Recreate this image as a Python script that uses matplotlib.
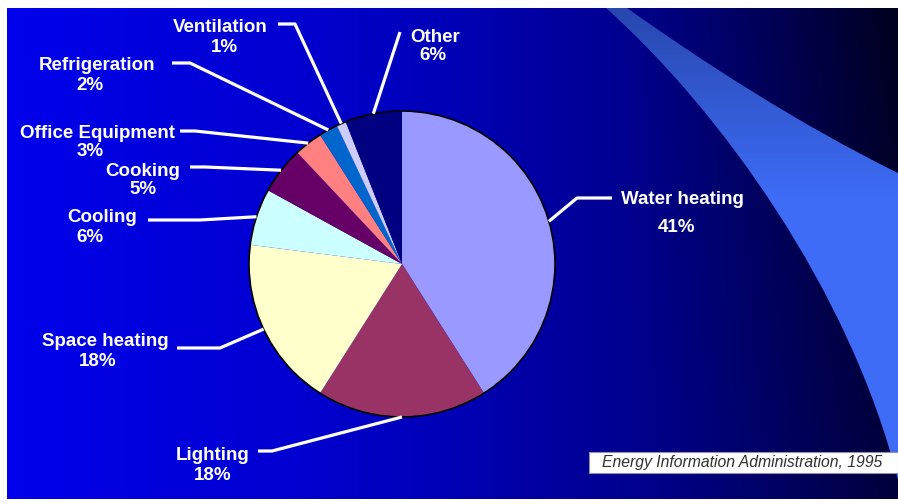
import matplotlib.pyplot as plt
import numpy as np
from matplotlib.patches import Circle, Rectangle, PathPatch
from matplotlib.path import Path

# Commercial building energy end use, EIA 1995
categories = ["Water heating", "Lighting", "Space heating", "Cooling", "Cooking",
              "Office Equipment", "Refrigeration", "Ventilation", "Other"]
shares = [41, 18, 18, 6, 5, 3, 2, 1, 6]
slice_colors = ["#9999FF", "#993366", "#FFFFCC", "#CCFFFF", "#660066",
                "#FF8080", "#0066CC", "#CCCCFF", "#000080"]
source = "Energy Information Administration, 1995"

W, H = 898, 504


def Y(y):
    # picture rows run downwards, the axes run upwards
    return H - y


# label layout in picture pixels: name centre, percent centre, leader path
name_pos = [(682, 199), (213, 456), (105, 342), (102, 218), (143, 171),
            (98, 133), (97, 65), (220, 28), (435, 37)]
pct_pos = [(676, 228), (213, 475), (98, 361), (90, 237), (143, 190),
           (90, 152), (90, 85), (224, 47), (433, 56)]
leader_start = [[(612, 198), (577, 198)],
                [(258, 451), (272, 451)],
                [(177, 348), (220, 348)],
                [(148, 220), (200, 220)],
                [(190, 167), (205, 167)],
                [(180, 131), (195, 131)],
                [(172, 63), (190, 63)],
                [(278, 24), (295, 24)],
                [(400, 32)]]

fig = plt.figure(figsize=(W / 100, H / 100), dpi=100)
fig.patch.set_facecolor("white")
ax = fig.add_axes([0, 0, 1, 1])
ax.set_xlim(0, W)
ax.set_ylim(0, H)
ax.set_aspect("equal")
ax.axis("off")

# blue background, bright on the left, dark on the right
xs = np.linspace(7, W, 400)
ys = np.linspace(8, 499, 200)
XX, YY = np.meshgrid(xs, ys)
blue = np.interp(XX, [7, 300, 450, 640, 780, 898], [235, 208, 182, 140, 90, 45])
blue = blue + (YY - 250) * np.interp(XX, [600, 898], [0, 0.06])
bg = np.zeros(XX.shape + (3,))
bg[..., 2] = np.clip(blue, 0, 255) / 255
ax.imshow(bg, extent=(7, W, Y(499), Y(8)), origin="upper", aspect="auto", zorder=0)

# light blue swoosh on the right (two bezier edges)
verts = [(606, 8), (720, 110), (850, 290), (898, 480),
         (898, 173),
         (800, 125), (700, 60), (627, 8),
         (606, 8)]
codes = [Path.MOVETO, Path.CURVE4, Path.CURVE4, Path.CURVE4,
         Path.LINETO,
         Path.CURVE4, Path.CURVE4, Path.CURVE4,
         Path.CLOSEPOLY]
swoosh = PathPatch(Path([(x, Y(y)) for x, y in verts], codes),
                   facecolor="none", edgecolor="none")
ax.add_patch(swoosh)
sy = np.linspace(0, 1, 100)[:, None] * np.ones((1, 10))
sw = np.zeros(sy.shape + (3,))
t = np.clip(sy / 0.4, 0, 1)
sw[..., 0] = (40 + 22 * t) / 255
sw[..., 1] = (72 + 36 * t) / 255
sw[..., 2] = (175 + 72 * t) / 255
im = ax.imshow(sw, extent=(600, W, Y(480), Y(8)), origin="upper", aspect="auto", zorder=1)
im.set_clip_path(swoosh)

# the pie
cx, cy, r = 402, 264, 153
wedges, _ = ax.pie(shares, colors=slice_colors, startangle=90, counterclock=False,
                   center=(cx, Y(cy)), radius=r, frame=True,
                   wedgeprops=dict(linewidth=0, zorder=3))
ax.add_patch(Circle((cx, Y(cy)), r, fill=False, edgecolor="black", linewidth=1.2, zorder=4))
ax.set_xlim(0, W)
ax.set_ylim(0, H)
ax.axis("off")

# leaders and labels
for i, w in enumerate(wedges):
    mid = np.deg2rad((w.theta1 + w.theta2) / 2)
    ex = cx + r * np.cos(mid)
    ey = Y(cy) + r * np.sin(mid)
    pts = [(x, Y(y)) for x, y in leader_start[i]] + [(ex, ey)]
    px, py = zip(*pts)
    ax.plot(px, py, color="white", linewidth=2.3, solid_capstyle="butt", zorder=5)
    nx, ny = name_pos[i]
    ax.text(nx, Y(ny), categories[i], color="white", fontsize=13.5, fontweight="bold",
            family="Liberation Sans", ha="center", va="center", zorder=6)
    qx, qy = pct_pos[i]
    ax.text(qx, Y(qy), f"{shares[i]}%", color="white", fontsize=13.5, fontweight="bold",
            family="Liberation Sans", ha="center", va="center", zorder=6)

# source box
ax.add_patch(Rectangle((589, Y(473)), W - 589, 21, facecolor="white",
                       edgecolor="#9090a0", linewidth=0.8, zorder=6))
ax.text(602, Y(463), source, color="#303030", fontsize=11.3, style="italic",
        family="Liberation Sans", ha="left", va="center", zorder=7)

fig.savefig("out.png", dpi=100)
